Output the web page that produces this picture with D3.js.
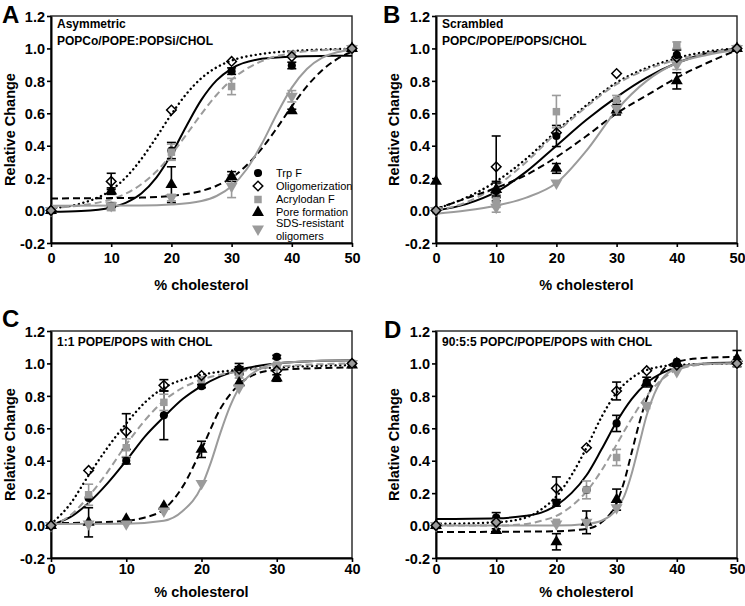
<!DOCTYPE html>
<html><head><meta charset="utf-8">
<script src="https://cdn.jsdelivr.net/npm/d3@7"></script>
<style>
body{margin:0;background:#fff}
svg{display:block}
text{font-family:"Liberation Sans",Arial,Helvetica,sans-serif}
</style>
</head><body>
<svg id="chart" width="745" height="606"></svg>
<script>
// ---------------- DATA ----------------
const seriesKeys = ["trp","oligo","acry","pore","sds"];
const seriesLabels = ["Trp F","Oligomerization","Acrylodan F","Pore formation","SDS-resistant"," oligomers"];
const panelLetters = ["A","B","C","D"];
const panelTitles = [["Asymmetric","POPCo/POPE:POPSi/CHOL"],["Scrambled","POPC/POPE/POPS/CHOL"],["1:1 POPE/POPS with CHOL"],["90:5:5 POPC/POPE/POPS with CHOL"]];
const xMaxes = [50,50,40,50];
const xTicksAB = [0,10,20,30,40,50];
const xTicksC = [0,10,20,30,40];
const yTicks = [-0.2,0,0.2,0.4,0.6,0.8,1.0,1.2];
const yTickLabels = ["-0.2","0.0","0.2","0.4","0.6","0.8","1.0","1.2"];
const xTitle = "% cholesterol";
const yTitle = "Relative Change";

// Panel A
const A_x = [0,10,20,30,40,50];
const A_trp = [0,0.03,0.37,0.86,0.895,1.0];      const A_trpErr = [0,0.01,0.05,0.02,0.02,0];
const A_oligo = [0,0.18,0.62,0.92,0.95,1.0];     const A_oligoErr = [0,0.05,0,0,0,0];
const A_acry = [0,0.02,0.36,0.765,0.965,1.0];    const A_acryErr = [0,0.02,0.05,0.05,0.01,0];
const A_pore = [0,0.12,0.16,0.21,0.615,1.0];     const A_poreErr = [0,0.02,0.11,0.03,0.01,0];
const A_sds = [0,0.03,0.08,0.15,0.705,1.0];      const A_sdsErr = [0,0.02,0.02,0.07,0.035,0];
const A_fitTrp = [[0,-0.008],[5,-0.003],[10,0.019],[12.5,0.049],[15,0.105],[17.5,0.203],[20,0.347],[22.5,0.522],[25,0.684],[27.5,0.803],[30,0.876],[35,0.936],[40,0.95],[45,0.954],[50,0.955]];
const A_fitOligo = [[0,0.014],[5,0.044],[10,0.127],[12.5,0.207],[15,0.318],[17.5,0.452],[20,0.594],[22.5,0.72],[25,0.817],[27.5,0.883],[30,0.925],[35,0.966],[40,0.984],[45,0.993],[50,0.998]];
const A_fitAcry = [[0,0.018],[5,0.032],[10,0.07],[12.5,0.106],[15,0.162],[17.5,0.241],[20,0.346],[22.5,0.469],[25,0.597],[27.5,0.713],[30,0.807],[35,0.922],[40,0.971],[45,0.989],[50,0.996]];
const A_fitPore = [[0,0.075],[10,0.077],[15,0.08],[20,0.091],[22.5,0.102],[25,0.121],[27.5,0.153],[30,0.203],[32.5,0.279],[35,0.382],[37.5,0.508],[40,0.643],[42.5,0.766],[45,0.864],[47.5,0.934],[50,0.98]];
const A_fitSds = [[0,0.03],[15,0.031],[20,0.037],[25,0.059],[27.5,0.09],[30,0.15],[32.5,0.255],[35,0.41],[37.5,0.594],[40,0.758],[42.5,0.873],[45,0.941],[47.5,0.976],[50,0.994]];

// Panel B
const B_x = [0,10,20,30,40,50];
const B_trp = [0,0.12,0.46,0.645,0.96,1.0];      const B_trpErr = [0,0.06,0.065,0.03,0.03,0];
const B_oligo = [0,0.27,0.48,0.845,0.945,1.0];   const B_oligoErr = [0,0.19,0,0,0,0];
const B_acry = [0,0.06,0.61,0.68,1.02,1.0];      const B_acryErr = [0,0.04,0.1,0.03,0.02,0];
const B_pore = [0.18,0.13,0.26,0.62,0.80,1.0];   const B_poreErr = [0,0.04,0.03,0.03,0.05,0];
const B_sds = [0,0.02,0.17,0.63,0.90,1.0];       const B_sdsErr = [0,0.03,0,0.03,0.03,0];
const B_fitTrp = [[0,0],[5,0.04],[10,0.115],[15,0.24],[20,0.40],[25,0.56],[30,0.70],[35,0.82],[40,0.91],[45,0.97],[50,1.0]];
const B_fitOligo = [[0,0.01],[5,0.08],[10,0.18],[15,0.32],[20,0.49],[25,0.65],[30,0.79],[35,0.88],[40,0.94],[45,0.98],[50,1.0]];
const B_fitAcry = [[0,0],[5,0.05],[10,0.15],[15,0.30],[20,0.48],[25,0.64],[30,0.78],[35,0.87],[40,0.93],[45,0.97],[50,1.0]];
const B_fitPore = [[0,0.01],[5,0.075],[10,0.14],[15,0.22],[20,0.33],[25,0.46],[30,0.60],[35,0.71],[40,0.82],[45,0.91],[50,0.99]];
const B_fitSds = [[0,-0.02],[5,0.0],[10,0.03],[15,0.08],[20,0.17],[25,0.37],[30,0.62],[35,0.80],[40,0.91],[45,0.96],[50,0.99]];

// Panel C
const C_x = [0,5,10,15,20,25,30,40];
const C_trp = [0,0.17,0.40,0.68,0.86,0.96,1.04,1.0];     const C_trpErr = [0,0,0.02,0.15,0.01,0.02,0.01,0];
const C_oligo = [0,0.34,0.58,0.865,0.925,0.965,0.955,1.0]; const C_oligoErr = [0,0,0.11,0.035,0,0.035,0,0];
const C_acry = [0,0.19,0.48,0.76,0.90,0.93,0.99,1.0];    const C_acryErr = [0,0.065,0.055,0.05,0,0.02,0,0];
const C_pore = [0,0.02,0.04,0.12,0.47,0.88,0.91,0.99];   const C_poreErr = [0,0.09,0,0,0.05,0,0.02,0];
const C_sds = [0,0.01,0.01,0.09,0.26,0.85,0.98,1.0];     const C_sdsErr = [0,0,0,0,0,0,0,0];
const C_fitTrp = [[0,0.005],[2.5,0.05],[5,0.14],[7.5,0.26],[10,0.40],[12.5,0.55],[15,0.67],[17.5,0.78],[20,0.86],[22.5,0.92],[25,0.96],[30,1.0],[35,1.015],[40,1.02]];
const C_fitOligo = [[0,0.01],[2.5,0.13],[5,0.31],[7.5,0.48],[10,0.63],[12.5,0.76],[15,0.85],[17.5,0.9],[20,0.93],[25,0.96],[30,0.975],[40,0.99]];
const C_fitAcry = [[0,0],[2.5,0.06],[5,0.18],[7.5,0.33],[10,0.5],[12.5,0.65],[15,0.77],[17.5,0.85],[20,0.9],[25,0.95],[30,0.98],[40,1.0]];
const C_fitPore = [[0,0.015],[5,0.018],[10,0.03],[12.5,0.05],[15,0.1],[17.5,0.24],[20,0.47],[22.5,0.72],[25,0.87],[27.5,0.94],[30,0.96],[35,0.97],[40,0.975]];
const C_fitSds = [[0,0.01],[10,0.012],[15,0.03],[17.5,0.09],[20,0.24],[21.25,0.39],[22.5,0.57],[23.75,0.73],[25,0.85],[27.5,0.96],[30,1.0],[35,1.015],[40,1.02]];

// Panel D
const D_x = [0,10,20,25,30,35,40,50];
const D_trp = [0,0.05,0.14,0.22,0.63,0.885,1.01,1.0];    const D_trpErr = [0,0.03,0.02,0,0.05,0.03,0,0];
const D_oligo = [0,0.02,0.23,0.48,0.83,0.955,0.99,1.0];  const D_oligoErr = [0,0,0.07,0,0.055,0,0,0];
const D_acry = [0,0.02,0.02,0.22,0.42,0.74,0.98,1.0];    const D_acryErr = [0,0,0,0.055,0.05,0,0,0];
const D_pore = [0,-0.03,-0.10,0.02,0.16,0.88,1.0,1.03];  const D_poreErr = [0,0.01,0.05,0.07,0.065,0,0,0.05];
const D_sds = [0,0.01,0.01,0.02,0.11,0.74,0.95,1.0];     const D_sdsErr = [0,0,0,0,0,0,0,0];
const D_fitTrp = [[0,0.04],[10,0.045],[15,0.06],[17.5,0.08],[20,0.125],[22.5,0.2],[25,0.31],[27.5,0.47],[30,0.64],[32.5,0.78],[35,0.88],[37.5,0.94],[40,0.975],[45,1.0],[50,1.005]];
const D_fitOligo = [[0,0.01],[10,0.02],[15,0.05],[17.5,0.1],[20,0.18],[22.5,0.31],[25,0.48],[27.5,0.67],[30,0.82],[32.5,0.91],[35,0.96],[40,0.99],[50,1.0]];
const D_fitAcry = [[0,0],[10,0.0],[15,0.01],[17.5,0.03],[20,0.06],[22.5,0.12],[25,0.21],[27.5,0.34],[30,0.5],[32.5,0.66],[35,0.8],[37.5,0.9],[40,0.96],[45,0.995],[50,1.0]];
const D_fitPore = [[0,-0.04],[20,-0.035],[25,-0.02],[27.5,0.02],[30,0.14],[31.25,0.27],[32.5,0.45],[33.75,0.63],[35,0.78],[37.5,0.95],[40,1.01],[45,1.035],[50,1.04]];
const D_fitSds = [[0,0],[20,0.0],[25,0.01],[27.5,0.03],[30,0.1],[31.25,0.18],[32.5,0.32],[33.75,0.5],[35,0.68],[36.25,0.81],[37.5,0.9],[40,0.97],[45,1.0],[50,1.0]];

// ---------------- BUILD ----------------
const panelData = [
  {x:A_x, vals:[A_trp,A_oligo,A_acry,A_pore,A_sds], errs:[A_trpErr,A_oligoErr,A_acryErr,A_poreErr,A_sdsErr], fits:[A_fitTrp,A_fitOligo,A_fitAcry,A_fitPore,A_fitSds], ticks:xTicksAB},
  {x:B_x, vals:[B_trp,B_oligo,B_acry,B_pore,B_sds], errs:[B_trpErr,B_oligoErr,B_acryErr,B_poreErr,B_sdsErr], fits:[B_fitTrp,B_fitOligo,B_fitAcry,B_fitPore,B_fitSds], ticks:xTicksAB},
  {x:C_x, vals:[C_trp,C_oligo,C_acry,C_pore,C_sds], errs:[C_trpErr,C_oligoErr,C_acryErr,C_poreErr,C_sdsErr], fits:[C_fitTrp,C_fitOligo,C_fitAcry,C_fitPore,C_fitSds], ticks:xTicksC},
  {x:D_x, vals:[D_trp,D_oligo,D_acry,D_pore,D_sds], errs:[D_trpErr,D_oligoErr,D_acryErr,D_poreErr,D_sdsErr], fits:[D_fitTrp,D_fitOligo,D_fitAcry,D_fitPore,D_fitSds], ticks:xTicksAB}
];

const GRAY = "#9b9b9b";
const styles = {
  trp:   {color:"#000", dash:null,        sym:"circle",  fill:"#000"},
  oligo: {color:"#000", dash:"0.1,4.6",   sym:"diamond", fill:"none", cap:"round", w:2.4},
  acry:  {color:GRAY,   dash:"7,4",       sym:"square",  fill:GRAY},
  pore:  {color:"#000", dash:"7,4",       sym:"tri",     fill:"#000"},
  sds:   {color:GRAY,   dash:null,        sym:"tridown", fill:GRAY}
};

const layout = [
  {left:51,  top:16,  lx:2,   ly:22,  tickY:20, titleY:47, ytx:15},
  {left:436, top:16,  lx:383, ly:22,  tickY:20, titleY:47, ytx:399},
  {left:51,  top:331, lx:2,   ly:327, tickY:16, titleY:39, ytx:15},
  {left:436, top:331, lx:384, ly:338, tickY:16, titleY:39, ytx:399}
];
const W = 301, H = 227;

const svg = d3.select("#chart");
svg.append("rect").attr("width",745).attr("height",606).attr("fill","#fff");

function drawSymbol(sel, type, cx, cy, st) {
  let s;
  if (type === "circle") s = d3.symbol(d3.symbolCircle, 52);
  else if (type === "square") s = d3.symbol(d3.symbolSquare, 56);
  else if (type === "diamond") s = d3.symbol(d3.symbolSquare, 46);
  else s = d3.symbol(d3.symbolTriangle, 62);
  let rot = 0;
  if (type === "diamond") rot = 45;
  if (type === "tridown") rot = 180;
  const p = sel.append("path").attr("d", s())
    .attr("transform", `translate(${cx},${cy}) rotate(${rot})`)
    .attr("fill", st.fill);
  if (type === "diamond") p.attr("stroke","#000").attr("stroke-width",1.5);
}

panelData.forEach((pd, i) => {
  const L = layout[i];
  const g = svg.append("g").attr("transform", `translate(${L.left},${L.top})`);
  const x = d3.scaleLinear().domain([0, xMaxes[i]]).range([0, W]);
  const y = d3.scaleLinear().domain([-0.2, 1.2]).range([H, 0]);

  // frame
  g.append("rect").attr("width",W).attr("height",H).attr("fill","none")
    .attr("stroke","#222").attr("stroke-width",1.4);

  // axes
  const xa = g.append("g").attr("transform",`translate(0,${H})`)
    .call(d3.axisBottom(x).tickValues(pd.ticks).tickSize(4).tickSizeOuter(0).tickFormat(d3.format("d")));
  const ya = g.append("g")
    .call(d3.axisLeft(y).tickValues(yTicks).tickSize(4).tickSizeOuter(0).tickFormat((d,k)=>yTickLabels[k]));
  [xa, ya].forEach(a => {
    a.select(".domain").attr("stroke","#000").attr("stroke-width",2);
    a.selectAll(".tick line").attr("stroke","#000").attr("stroke-width",1.6);
    a.selectAll(".tick text").attr("fill","#000").style("font-size","14.5px").style("font-weight","bold")
      .style("font-family",'"Liberation Sans",Arial,sans-serif');
  });
  xa.selectAll(".tick text").attr("y", L.tickY).attr("dy", 0);
  ya.selectAll(".tick text").attr("x", -6).attr("dy", "0.36em");

  // axis titles
  svg.append("text").attr("x", L.left + W/2).attr("y", L.top + H + L.titleY)
    .attr("text-anchor","middle").style("font-size","14.5px").style("font-weight","bold").text(xTitle);
  svg.append("text").attr("transform", `translate(${L.ytx},${L.top + H/2}) rotate(-90)`)
    .attr("text-anchor","middle").style("font-size","14.5px").style("font-weight","bold").text(yTitle);

  // panel letter (kept fully inside the page)
  svg.append("text").attr("x", L.lx).attr("y", Math.max(L.ly, 22.5)).style("font-size","24px").style("font-weight","bold").text(panelLetters[i]);

  // panel title
  panelTitles[i].forEach((t, k) => {
    g.append("text").attr("x", 6).attr("y", (panelTitles[i].length === 2 ? 12 : 15) + k*17)
      .style("font-size","12px").style("font-weight","bold").text(t);
  });

  // fit curves
  const line = d3.line().x(d => x(d[0])).y(d => y(d[1])).curve(d3.curveMonotoneX);
  seriesKeys.forEach((k, si) => {
    const st = styles[k];
    const p = g.append("path").datum(pd.fits[si]).attr("d", line)
      .attr("fill","none").attr("stroke", st.color).attr("stroke-width", st.w || 2);
    if (st.dash) p.attr("stroke-dasharray", st.dash);
    if (st.cap) p.attr("stroke-linecap", st.cap);
  });

  // error bars
  seriesKeys.forEach((k, si) => {
    const st = styles[k];
    pd.x.forEach((xv, j) => {
      const e = pd.errs[si][j];
      if (!e) return;
      const v = pd.vals[si][j];
      const cx = x(xv), y1 = y(v - e), y2 = y(v + e);
      const eg = g.append("g").attr("stroke", st.color).attr("stroke-width", 1.6);
      eg.append("line").attr("x1",cx).attr("x2",cx).attr("y1",y1).attr("y2",y2);
      eg.append("line").attr("x1",cx-4.5).attr("x2",cx+4.5).attr("y1",y1).attr("y2",y1);
      eg.append("line").attr("x1",cx-4.5).attr("x2",cx+4.5).attr("y1",y2).attr("y2",y2);
    });
  });

  // markers (diamonds last, hollow)
  ["trp","acry","pore","sds","oligo"].forEach(k => {
    const si = seriesKeys.indexOf(k);
    const st = styles[k];
    pd.x.forEach((xv, j) => {
      drawSymbol(g, st.sym, x(xv), y(pd.vals[si][j]), st);
    });
  });

  // legend in panel A
  if (i === 0) {
    const legY = [173, 186, 199.5, 212.5, 229];
    const txtY = [173, 186, 199.5, 212.5, 223.5, 236.5];
    seriesKeys.forEach((k, si) => {
      drawSymbol(svg, styles[k].sym, 258, legY[si], styles[k]);
    });
    seriesLabels.forEach((t, si) => {
      svg.append("text").attr("x", 276).attr("y", txtY[si]).attr("dy","0.35em")
        .style("font-size","11px").text(t);
    });
  }
});
</script>
</body></html>
